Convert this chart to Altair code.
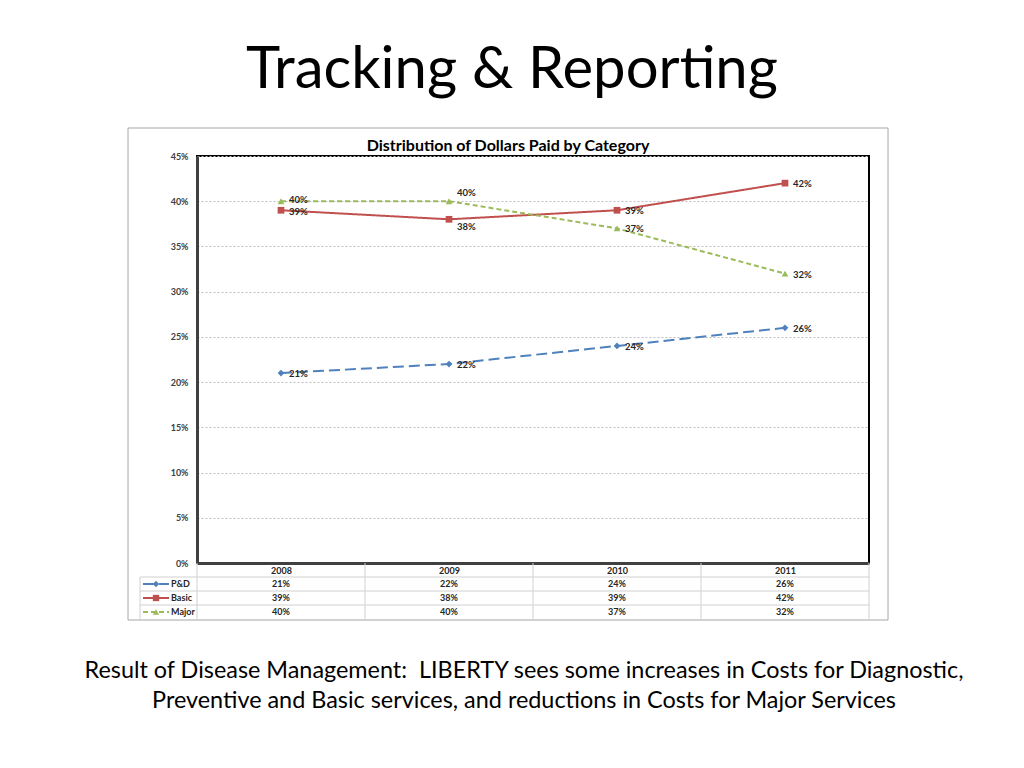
import altair as alt
import pandas as pd

years = ["2008", "2009", "2010", "2011"]
series = ["P&D", "Basic", "Major"]
pd_vals = [0.21, 0.22, 0.24, 0.26]
basic_vals = [0.39, 0.38, 0.39, 0.42]
major_vals = [0.40, 0.40, 0.37, 0.32]
y_ticks = [0, 0.05, 0.10, 0.15, 0.20, 0.25, 0.30, 0.35, 0.40, 0.45]

slide_title = "Tracking & Reporting"
chart_title = "Distribution of Dollars Paid by Category"
caption = ["Result of Disease Management:\u00a0 LIBERTY sees some increases in Costs for Diagnostic,",
           "Preventive and Basic services, and reductions in Costs for Major Services"]

colors = ["#4F81BD", "#C0504D", "#9BBB59"]
dashes = [[11, 5], [1, 0], [5, 3]]
shapes = ["diamond", "square", "triangle-up"]

rows = []
for s, vals in zip(series, [pd_vals, basic_vals, major_vals]):
    for y, v in zip(years, vals):
        rows.append({"year": y, "series": s, "value": v})
df = pd.DataFrame(rows)

W, H = 672, 407
FONT = "Lato"
step = W / len(years)

x_enc = alt.X("year:N", scale=alt.Scale(type="point", padding=0.5, domain=years),
              axis=alt.Axis(title=None, labelAngle=0, ticks=False, labelPadding=3,
                            labelFont=FONT, labelFontSize=9, labelFontWeight="bold",
                            labelColor="#262626", domainColor="#404040", domainWidth=3,
                            grid=False))
y_enc = alt.Y("value:Q", scale=alt.Scale(domain=[0, 0.45], nice=False, zero=True),
              axis=alt.Axis(title=None, values=y_ticks, format=".0%", ticks=False,
                            labelPadding=9, labelFont=FONT, labelFontSize=9,
                            labelFontWeight="bold", labelColor="#404040",
                            domainColor="#404040", domainWidth=3,
                            gridColor="#bfbfbf", gridDash=[2, 2], gridWidth=1))
color_enc = alt.Color("series:N", scale=alt.Scale(domain=series, range=colors), legend=None)
dash_enc = alt.StrokeDash("series:N", scale=alt.Scale(domain=series, range=dashes), legend=None)
shape_enc = alt.Shape("series:N", scale=alt.Scale(domain=series, range=shapes), legend=None)

one = pd.DataFrame({"a": [0]})

layers = []

# outer grey box of the chart object
layers.append(alt.Chart(one).mark_rect(fill=None, stroke="#a6a6a6", strokeWidth=1).encode(
    x=alt.value(-69), x2=alt.value(691), y=alt.value(-28), y2=alt.value(464)))

# texts
layers.append(alt.Chart(one).mark_text(text=slide_title, font=FONT, fontSize=58, color="#000000",
                                       align="center", baseline="alphabetic").encode(
    x=alt.value(315), y=alt.value(-68)))
layers.append(alt.Chart(one).mark_text(text=chart_title, font=FONT, fontSize=16, fontWeight="bold",
                                       color="#000000", align="center", baseline="alphabetic").encode(
    x=alt.value(311), y=alt.value(-5)))
for i, line in enumerate(caption):
    layers.append(alt.Chart(one).mark_text(text=line, font=FONT, fontSize=23.4, color="#000000",
                                           align="center", baseline="alphabetic").encode(
        x=alt.value(327), y=alt.value(522 + 30 * i)))

# main series
base = alt.Chart(df)
layers.append(base.mark_line(strokeWidth=2).encode(x=x_enc, y=y_enc, color=color_enc,
                                                   strokeDash=dash_enc))
layers.append(base.mark_point(filled=True, opacity=1, size=45).encode(
    x=x_enc, y=y_enc, color=color_enc, shape=shape_enc))

# data labels
lab = dict(font=FONT, fontSize=9.5, fontWeight="bold", color="#262626", align="left",
           baseline="middle", dx=8)
txt = alt.Text("value:Q", format=".0%")
special = [("2009", "Major", -8), ("2009", "Basic", 8), ("2008", "Major", -1), ("2008", "Basic", 2)]
normal = alt.datum.series == "P&D"
normal = normal | ((alt.datum.year != "2009") & (alt.datum.year != "2008"))
layers.append(base.transform_filter(normal).mark_text(dy=1, **lab).encode(
    x=x_enc, y=y_enc, text=txt))
for yr, s, d in special:
    layers.append(base.transform_filter((alt.datum.year == yr) & (alt.datum.series == s))
                  .mark_text(dy=d, **lab).encode(x=x_enc, y=y_enc, text=txt))

# data table below the plot
row_y = [H + 21, H + 35, H + 49]
line_col = "#d0d0d0"
for k in range(len(years) + 1):
    layers.append(alt.Chart(one).mark_rule(color=line_col, strokeWidth=1).encode(
        x=alt.value(k * step), y=alt.value(H), y2=alt.value(H + 57)))
for yy in [H + 14, H + 28, H + 42, H + 57]:
    layers.append(alt.Chart(one).mark_rule(color=line_col, strokeWidth=1).encode(
        x=alt.value(-57), x2=alt.value(W), y=alt.value(yy)))
layers.append(alt.Chart(one).mark_rule(color=line_col, strokeWidth=1).encode(
    x=alt.value(-57), y=alt.value(H + 14), y2=alt.value(H + 57)))

for i, s in enumerate(series):
    sub = df[df.series == s]
    layers.append(alt.Chart(sub).mark_text(font=FONT, fontSize=9, fontWeight="bold",
                                           color="#262626", align="center",
                                           baseline="middle").encode(
        x=x_enc, y=alt.value(row_y[i]), text=txt))
    leg = pd.DataFrame({"series": [s]})
    layers.append(alt.Chart(leg).mark_rule(strokeWidth=2).encode(
        x=alt.value(-54), x2=alt.value(-28), y=alt.value(row_y[i]),
        color=color_enc, strokeDash=dash_enc))
    layers.append(alt.Chart(leg).mark_point(filled=True, opacity=1, size=40).encode(
        x=alt.value(-41), y=alt.value(row_y[i]), color=color_enc, shape=shape_enc))
    layers.append(alt.Chart(leg).mark_text(font=FONT, fontSize=9, fontWeight="bold",
                                           color="#262626", align="left",
                                           baseline="middle").encode(
        x=alt.value(-26), y=alt.value(row_y[i]), text="series:N"))

chart = alt.layer(*layers).properties(
    width=W, height=H,
    autosize=alt.AutoSizeParams(type="none"),
    padding={"left": 189, "top": 148, "right": 147, "bottom": 197},
).configure(background="white").configure_view(stroke="#000000", strokeWidth=2)

chart.save("out.html", embed_options={"renderer": "svg", "actions": False})
